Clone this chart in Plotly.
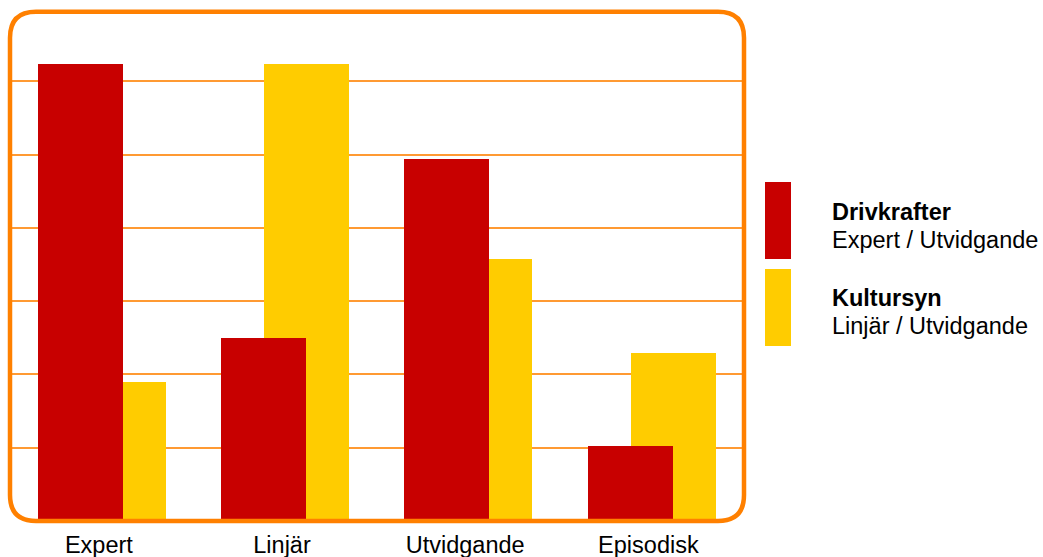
import plotly.graph_objects as go

categories = ["Expert", "Linjär", "Utvidgande", "Episodisk"]
drivkrafter = [6.23, 2.50, 4.94, 1.02]
kultursyn = [1.90, 6.23, 3.58, 2.29]
series_names = ["Drivkrafter", "Kultursyn"]
series_subtitles = ["Expert / Utvidgande", "Linjär / Utvidgande"]

W, H = 1043, 557
ML, MR, MT, MB = 10, 299, 8, 36
PW, PH = W - ML - MR, H - MT - MB
RED = "#C80000"
YELLOW = "#FFCC00"
ORANGE = "#FF8000"
FONT = "Liberation Sans, Arial, sans-serif"


def px_x(px):
    return (px - ML) / PW


def px_y(py):
    return (H - MB - py) / PH


fig = go.Figure()
fig.add_trace(go.Bar(x=categories, y=kultursyn, name=series_names[1],
                     marker=dict(color=YELLOW, line=dict(width=0)),
                     width=0.464, offset=-0.097, showlegend=False))
fig.add_trace(go.Bar(x=categories, y=drivkrafter, name=series_names[0],
                     marker=dict(color=RED, line=dict(width=0)),
                     width=0.464, offset=-0.332, showlegend=False))

# rounded border
bx0, bx1 = px_x(10), px_x(744)
by0, by1 = px_y(521), px_y(11.7)
rx, ry = 26 / PW, 26 / PH
path = (f"M {bx0+rx},{by0} L {bx1-rx},{by0} Q {bx1},{by0} {bx1},{by0+ry} "
        f"L {bx1},{by1-ry} Q {bx1},{by1} {bx1-rx},{by1} "
        f"L {bx0+rx},{by1} Q {bx0},{by1} {bx0},{by1-ry} "
        f"L {bx0},{by0+ry} Q {bx0},{by0} {bx0+rx},{by0} Z")
shapes = [dict(type="path", xref="paper", yref="paper", path=path,
               line=dict(color=ORANGE, width=4.5), layer="above")]

annotations = []
legend_boxes = [(182, 259, RED), (269, 346, YELLOW)]
for (y0, y1, col) in legend_boxes:
    shapes.append(dict(type="rect", xref="paper", yref="paper",
                       x0=px_x(765), x1=px_x(791), y0=px_y(y1), y1=px_y(y0),
                       fillcolor=col, line=dict(width=0)))

legend_text = [
    (f"<b>{series_names[0]}</b>", 212),
    (series_subtitles[0], 240),
    (f"<b>{series_names[1]}</b>", 298),
    (series_subtitles[1], 326),
]
for txt, cy in legend_text:
    annotations.append(dict(xref="paper", yref="paper", x=px_x(830), y=px_y(cy),
                            xanchor="left", yanchor="middle", text=txt,
                            showarrow=False,
                            font=dict(family=FONT, size=23.5, color="black")))

fig.update_layout(
    template="none",
    width=W, height=H,
    margin=dict(l=ML, r=MR, t=MT, b=MB, pad=0, autoexpand=False),
    plot_bgcolor="white", paper_bgcolor="white",
    barmode="overlay",
    bargap=0,
    shapes=shapes,
    annotations=annotations,
    font=dict(family=FONT, size=23.5, color="black"),
    xaxis=dict(range=[-0.485, 3.522], showgrid=False, zeroline=False,
               showline=False, ticks="", tickfont=dict(size=23.5, color="black"),
               ticklabelstandoff=7, automargin=False, fixedrange=True),
    yaxis=dict(range=[0, 7], dtick=1, showgrid=True, gridcolor="#FF9A33",
               gridwidth=1.6, zeroline=False, showline=False,
               showticklabels=False, ticks="", automargin=False,
               fixedrange=True),
)

fig.write_html("out.html")
